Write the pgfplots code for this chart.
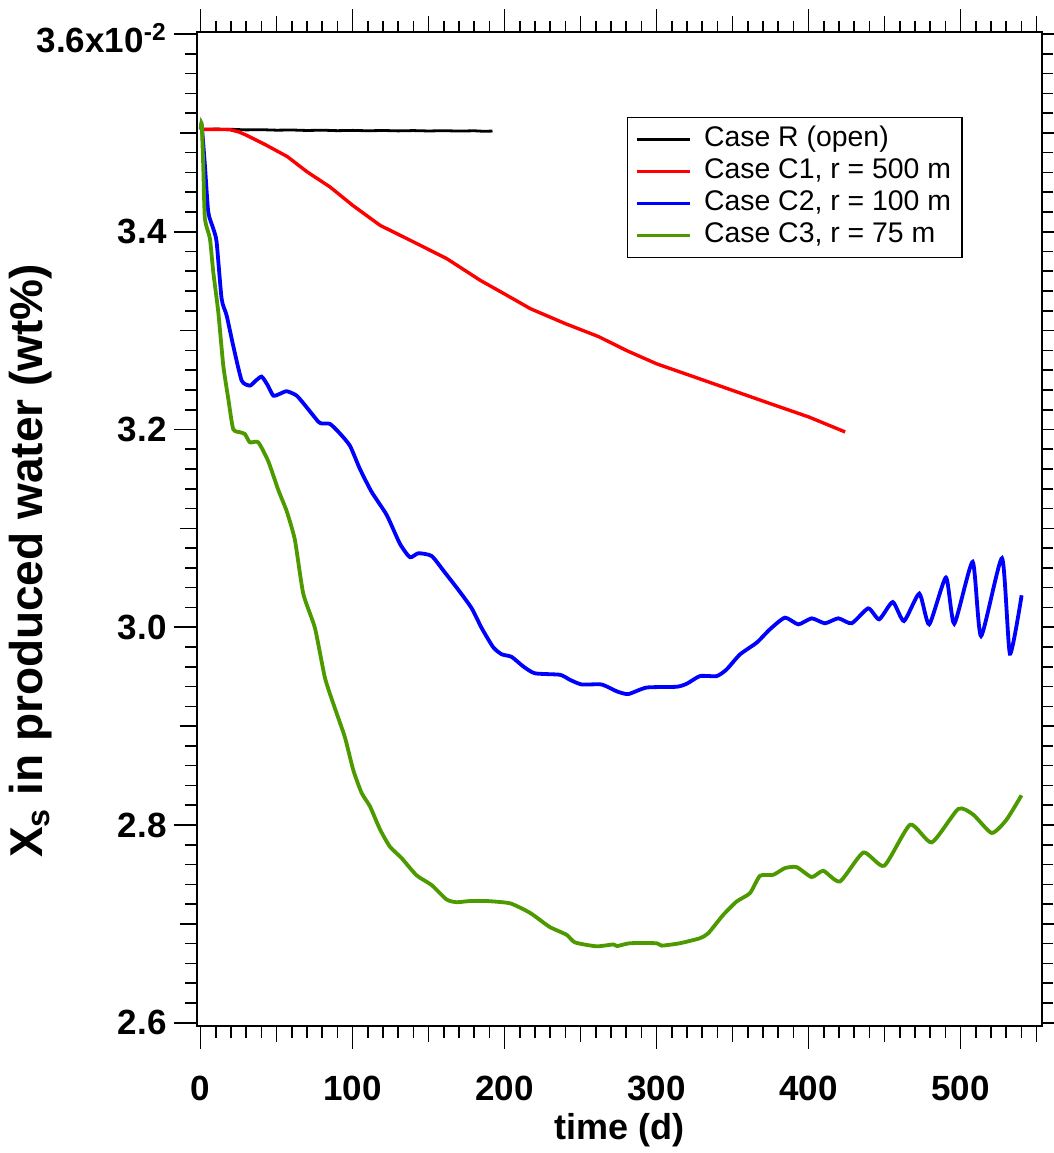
\documentclass[border=0pt]{standalone}
\usepackage{fontspec}
\setmainfont{Liberation Sans}
\usepackage{pgfplots}
\pgfplotsset{compat=1.18}

\definecolor{caseR}{RGB}{0,0,0}
\definecolor{caseCone}{RGB}{255,0,0}
\definecolor{caseCtwo}{RGB}{0,0,255}
\definecolor{caseCthree}{RGB}{77,153,0}

\begin{document}
\begin{tikzpicture}
\begin{axis}[
  at={(0,0)}, anchor=south west,
  width=422.5pt, height=496.85pt, scale only axis,
  xmin=-2.6, xmax=553.3, ymin=2.5967, ymax=3.6017,
  axis line style={line width=1pt},
  tick align=outside, tick pos=both,
  every tick/.style={black, line width=0.8pt},
  major tick length=11.5pt, minor tick length=5.8pt,
  xtick={0,100,...,500},
  xticklabels={0,100,200,300,400,500},
  minor xtick={10,20,...,540},
  extra x ticks={50,150,250,350,450,550},
  extra x tick labels={},
  extra x tick style={major tick length=8pt},
  ytick={2.6,2.8,3.0,3.2,3.4,3.6},
  yticklabels={2.6,2.8,3.0,3.2,3.4,{\raisebox{-2pt}[\height][\depth]{3.6x10\textsuperscript{-2}}}},
  minor ytick={2.62,2.64,...,3.59},
  extra y ticks={2.7,2.9,3.1,3.3,3.5},
  extra y tick labels={},
  extra y tick style={major tick length=8.5pt},
  tick label style={font=\bfseries\fontsize{17.5}{20}\selectfont},
  xticklabel style={yshift=-10pt},
  xlabel={time (d)},
  ylabel={X\textsubscript{s} in produced water (wt\%)},
  xlabel style={font=\bfseries\fontsize{18}{21}\selectfont,
    at={(axis description cs:0.5,-0.105)}, anchor=center},
  ylabel style={font=\bfseries\fontsize{23}{26}\selectfont,
    at={(axis description cs:-0.197,0.468)}, anchor=center},
  legend cell align=left,
  % short line sample followed by a gap before the entry text
  legend image code/.code={\draw[#1] (0pt,0pt) -- (26.5pt,0pt);
    \path (31pt,0pt);},
  legend style={at={(axis description cs:0.5087,0.9151)}, anchor=north west,
    draw=black, line width=0.75pt, font=\fontsize{14.2}{16}\selectfont,
    inner xsep=4pt, inner ysep=3pt, row sep=0pt,
    nodes={inner sep=1.5pt, text height=10pt, text depth=3pt}},
]
% Case R: open boundary, nearly constant salinity
\addplot[caseR, line width=1.4pt] coordinates {
  (0,3.5035) (10,3.5038) (20,3.5036) (30,3.5030) (40,3.5032) (50,3.5027)
  (60,3.5029) (70,3.5024) (80,3.5027) (90,3.5022) (100,3.5025) (110,3.5021)
  (120,3.5024) (130,3.5020) (140,3.5023) (150,3.5019) (160,3.5022)
  (170,3.5018) (180,3.5021) (186,3.5016) (192,3.5018)
};
\addlegendentry{Case R (open)}

% Case C1: r = 500 m
\addplot[caseCone, line width=1.7pt] coordinates {
  (0,3.5035) (10,3.5035) (19,3.5033) (25,3.5010) (30,3.4977) (43,3.4877)
  (57,3.4760) (70,3.4606) (85,3.4454) (100,3.4267) (118,3.4065) (140,3.3897)
  (162,3.3727) (184,3.3508) (200,3.3370) (217,3.3221) (240,3.3070)
  (262,3.2938) (280,3.2800) (300,3.2664) (325,3.2530) (350,3.2395)
  (375,3.2260) (400,3.2127) (424,3.1975)
};
\addlegendentry{Case C1, r = 500 m}

% Case C2: r = 100 m
\addplot[caseCtwo, line width=1.9pt, smooth, tension=0.35] coordinates {
  (0,3.5035) (0.7,3.5075) (2.8,3.4673) (5,3.4200) (8.3,3.4031) (10.5,3.3897)
  (13.8,3.3322) (17.1,3.3153) (21.4,3.2849) (27,3.2494) (32.4,3.2444)
  (36,3.2490) (40.1,3.2535) (44,3.2450) (47.8,3.2342) (52,3.2360)
  (56.6,3.2387) (63.2,3.2342) (69.7,3.2225) (77.4,3.2079) (80,3.2060)
  (85.1,3.2056) (91,3.1970) (98.2,3.1836) (104.8,3.1600) (112.5,3.1368)
  (122.4,3.1135) (131.1,3.0844) (137.7,3.0708) (143.2,3.0748) (152,3.0720)
  (160.7,3.0553) (169.5,3.0379) (178.3,3.0192) (184.9,2.9991) (192.5,2.9797)
  (198,2.9727) (204.6,2.9700) (212.2,2.9604) (219.9,2.9534) (236.4,2.9519)
  (243,2.9468) (250.7,2.9421) (263.8,2.9421) (273.7,2.9352) (281.3,2.9324)
  (293.4,2.9390) (313.2,2.9398) (320,2.9430) (328.5,2.9506) (339.5,2.9506)
  (346,2.9573) (354.8,2.9725) (365.8,2.9844) (374.5,2.9979) (384.4,3.0097)
  (393.2,3.0029) (402,3.0090) (410.7,3.0040) (419.5,3.0090) (428.3,3.0040)
  (439.2,3.0191) (446.4,3.0080) (455.3,3.0255) (462.7,3.0063) (472.8,3.0340)
  (479.3,3.0029) (490.3,3.0503) (495.8,3.0036) (507.9,3.0661) (513.4,2.9911)
  (527.2,3.0698) (532.4,2.9732) (540.1,3.0323)
};
\addlegendentry{Case C2, r = 100 m}

% Case C3: r = 75 m
\addplot[caseCthree, line width=1.9pt, smooth, tension=0.35] coordinates {
  (0,3.5035) (0.7,3.5095) (1.7,3.4673) (2.8,3.4133) (6.1,3.3930) (8.3,3.3593)
  (11.6,3.3187) (14.9,3.2646) (18.2,3.2309) (21.4,3.2005) (25.9,3.1972)
  (29.1,3.1954) (32.4,3.1870) (37.9,3.1870) (44.5,3.1678) (51.1,3.1387)
  (56.6,3.1174) (62,3.0883) (67.5,3.0340) (75.2,2.9991) (81.8,2.9487)
  (88.4,2.9177) (94.9,2.8887) (100.4,2.8556) (105.9,2.8324) (111.4,2.8188)
  (118,2.7955) (124.5,2.7781) (132.2,2.7665) (142.1,2.7490) (151.9,2.7393)
  (161.8,2.7246) (168.4,2.7219) (177.1,2.7231) (188.2,2.7231) (203.5,2.7208)
  (215.5,2.7122) (221.1,2.7064) (229.8,2.6967) (240.8,2.6889) (246.3,2.6812)
  (260.5,2.6773) (271.5,2.6792) (274,2.6775) (282.4,2.6804) (300,2.6804)
  (303.3,2.6780) (315.3,2.6804) (328.5,2.6855) (334,2.6906) (343.8,2.7091)
  (352.6,2.7226) (361.4,2.7311) (368,2.7486) (376.7,2.7496) (384.4,2.7564)
  (392.1,2.7574) (402,2.7473) (409.6,2.7537) (420.6,2.7429) (436,2.7722)
  (449.7,2.7588) (466.8,2.8003) (481,2.7824) (498.4,2.8162) (508.3,2.8104)
  (520.4,2.7919) (530,2.8050) (540,2.8300)
};
\addlegendentry{Case C3, r = 75 m}
\end{axis}
\pgfresetboundingbox
\path (-98.35pt,-63.5pt) rectangle (428.65pt,513pt);
\end{tikzpicture}
\end{document}
